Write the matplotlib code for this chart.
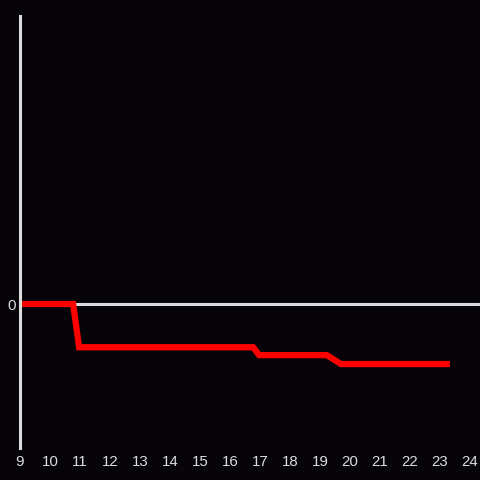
import matplotlib.pyplot as plt

# hours of day and the value at each step of the line
hours = [9.0, 10.77, 10.97, 16.77, 16.97, 19.23, 19.7, 23.33]
values = [0, 0, -3.0, -3.0, -3.55, -3.55, -4.17, -4.17]
xticks = list(range(9, 25))

bg = '#060408'
grey = '#dcdcdc'

fig = plt.figure(figsize=(4.8, 4.8), dpi=100, facecolor=bg)
ax = fig.add_axes([20/480, 32/480, 460/480, 432/480], facecolor=bg)

ax.axhline(0, color=grey, lw=2.2, zorder=1)
ax.plot(hours, values, color='#ff0000', lw=4.5, solid_joinstyle='miter',
        solid_capstyle='butt', zorder=2)

ax.set_xlim(9, 9 + 460/30)
ax.set_ylim(-10, 20)
ax.set_xticks(xticks)
ax.set_xticklabels([str(h) for h in xticks], family='Liberation Sans', fontsize=10.8, color=grey)
ax.set_yticks([0])
ax.set_yticklabels(['0'], family='Liberation Sans', fontsize=10.8, color=grey)
ax.tick_params(length=0, pad=5)
ax.tick_params(axis='y', pad=3)

for s in ['top', 'right', 'bottom']:
    ax.spines[s].set_visible(False)
ax.spines['left'].set_color(grey)
ax.spines['left'].set_linewidth(2.2)

fig.savefig('out.png', dpi=100, facecolor=bg)
